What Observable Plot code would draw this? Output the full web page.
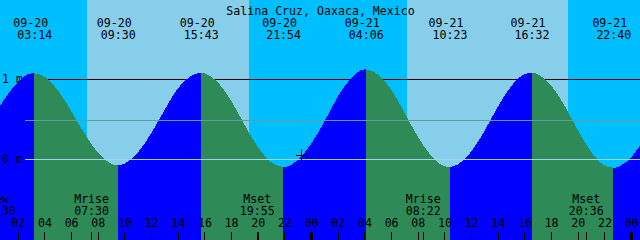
<!DOCTYPE html>
<html><head><meta charset="utf-8">
<script src="https://cdn.jsdelivr.net/npm/d3@7"></script>
<script src="https://cdn.jsdelivr.net/npm/@observablehq/plot@0.6"></script>
<style>html,body{margin:0;padding:0;background:#fff;} svg{display:block;}</style>
</head><body><div id="chart"></div>
<script>
// ---- data ----
const title = "Salina Cruz, Oaxaca, Mexico";
const year = 2025;
const xDomain = ["09-20 00:40", "09-22 00:40"];
const yDomain = [-1.0125, 1.9875];

const extremeTimes = ["09-20 03:14", "09-20 09:30", "09-20 15:43", "09-20 21:54",
                      "09-21 04:06", "09-21 10:23", "09-21 16:32", "09-21 22:40"];
const extremeLevels = [1.07, -0.08, 1.08, -0.10, 1.12, -0.10, 1.08, -0.11];
const extremeKinds = ["high", "low", "high", "low", "high", "low", "high", "low"];

// hourly water level (m), from 09-19 23:00 onward
const sampleStart = "09-19 23:00";
const hourlyLevels = [
  0.20, 0.47, 0.75, 0.96, 1.07, 1.03, 0.86, 0.60, 0.32, 0.08,
  -0.06, -0.06, 0.08, 0.32, 0.61, 0.88, 1.04, 1.07, 0.96, 0.73,
  0.43, 0.15, -0.04, -0.10, -0.01, 0.19, 0.47, 0.78, 1.01, 1.12,
  1.06, 0.87, 0.58, 0.28, 0.04, -0.09, -0.07, 0.09, 0.35, 0.65,
  0.91, 1.06, 1.06, 0.92, 0.67, 0.36, 0.09, -0.08, -0.10, 0.02,
  0.26
];

const sunrise = ["09-20 07:12", "09-21 07:12"];
const sunset = ["09-20 19:21", "09-21 19:17"];

const moonLabels = ["New", "Mrise", "Mset", "Mrise", "Mset"];
const moonTimes = ["09-20 00:30", "09-20 07:30", "09-20 19:55", "09-21 08:22", "09-21 20:36"];

const hourTickLabels = ["02", "04", "06", "08", "10", "12", "14", "16", "18", "20", "22", "00",
                        "02", "04", "06", "08", "10", "12", "14", "16", "18", "20", "22", "00"];

const depthLevels = [1, 0];
const depthLabels = ["1 m", "0 m"];
const meanLevel = 0.4875;

const nowTime = "09-20 23:15";
const nowLevel = 0.05;

const colors = {night: "#00BFFF", day: "#87CEEB", flood: "#0000FF", ebb: "#2E8B57",
                depth: "#000000", mean: "#5F9EA0", datum: "#9ED6EE", ink: "#000000"};

// ---- helpers ----
function parseT(s) {
  const [md, hm] = s.split(" ");
  const [mo, d] = md.split("-").map(Number);
  const [H, M] = hm.split(":").map(Number);
  return new Date(Date.UTC(year, mo - 1, d, H, M));
}

const ext = extremeTimes.map((s, i) => ({
  t: parseT(s), level: extremeLevels[i], kind: extremeKinds[i],
  date: s.split(" ")[0], time: s.split(" ")[1]
}));
const t0 = parseT(sampleStart);
const samples = hourlyLevels.map((v, i) => ({t: new Date(+t0 + i * 3600e3), level: v}));

const water = [];
for (let k = 0; k <= ext.length; k++) {
  const lo = k > 0 ? ext[k - 1] : null, hi = k < ext.length ? ext[k] : null;
  const rising = hi ? hi.kind === "high" : lo.kind === "low";
  const fill = rising ? colors.flood : colors.ebb;
  const pts = [];
  if (lo) pts.push({t: lo.t, level: lo.level});
  for (const s of samples) if ((!lo || s.t > lo.t) && (!hi || s.t < hi.t)) pts.push(s);
  if (hi) pts.push({t: hi.t, level: hi.level});
  for (const p of pts) water.push({t: p.t, level: p.level, seg: k, fill});
}

const dayBands = sunrise.map((s, i) => ({rise: parseT(s), set: parseT(sunset[i])}));
const moon = moonLabels.map((l, i) => ({label: l, t: parseT(moonTimes[i]), time: moonTimes[i].split(" ")[1]}));

let day = 20;
const hourTicks = hourTickLabels.map(l => {
  if (l === "00") day++;
  return {label: l, t: parseT(`09-${day} ${l}:00`), w: l === "00" ? 3 : 1};
});
const depths = depthLevels.map((v, i) => ({level: v, label: depthLabels[i]}));

const font = {fontFamily: "DejaVu Sans Mono", fontSize: 11.6, fill: colors.ink};

const chart = Plot.plot({
  width: 640, height: 240,
  marginTop: 0, marginRight: 0, marginBottom: 0, marginLeft: 0,
  style: {background: colors.night, fontFamily: "DejaVu Sans Mono", shapeRendering: "crispEdges"},
  x: {type: "utc", domain: xDomain.map(parseT), axis: null},
  y: {domain: yDomain, axis: null},
  color: {type: "identity"},
  marks: [
    Plot.rect(dayBands, {x1: "rise", x2: "set", y1: yDomain[0], y2: yDomain[1], fill: colors.day}),
    Plot.ruleY(depths.filter(d => d.level !== 0), {y: "level", stroke: colors.depth, insetLeft: 25}),
    Plot.areaY(water, {x: "t", y1: yDomain[0], y2: "level", z: "seg", fill: "fill", curve: "monotone-x", clip: true}),
    Plot.ruleY([meanLevel], {stroke: colors.mean, insetLeft: 25}),
    Plot.ruleY(depths.filter(d => d.level === 0), {y: "level", stroke: colors.datum, insetLeft: 25}),
    Plot.text(depths, {y: "level", text: "label", frameAnchor: "left", textAnchor: "start", dx: 1.5, ...font}),
    Plot.text([title], {text: d => d, frameAnchor: "top", dy: 6, ...font}),
    Plot.text(ext, {x: "t", text: "date", frameAnchor: "top", dy: 18, dx: -4, ...font}),
    Plot.text(ext, {x: "t", text: "time", frameAnchor: "top", dy: 30, ...font}),
    Plot.text(moon, {x: "t", text: "label", frameAnchor: "bottom", dy: -38, ...font}),
    Plot.text(moon, {x: "t", text: "time", frameAnchor: "bottom", dy: -26, ...font}),
    Plot.text(hourTicks, {x: "t", text: "label", frameAnchor: "bottom", dy: -14, ...font}),
    Plot.ruleX(hourTicks, {x: "t", strokeWidth: "w", stroke: colors.ink, insetTop: 232}),
    Plot.ruleX(moon, {x: "t", stroke: colors.ink, insetTop: 232}),
    Plot.dot([{t: parseT(nowTime), level: nowLevel}], {x: "t", y: "level", symbol: "plus", r: 4, stroke: colors.ink, strokeWidth: 1})
  ]
});
document.getElementById("chart").append(chart);
</script>
</body></html>
